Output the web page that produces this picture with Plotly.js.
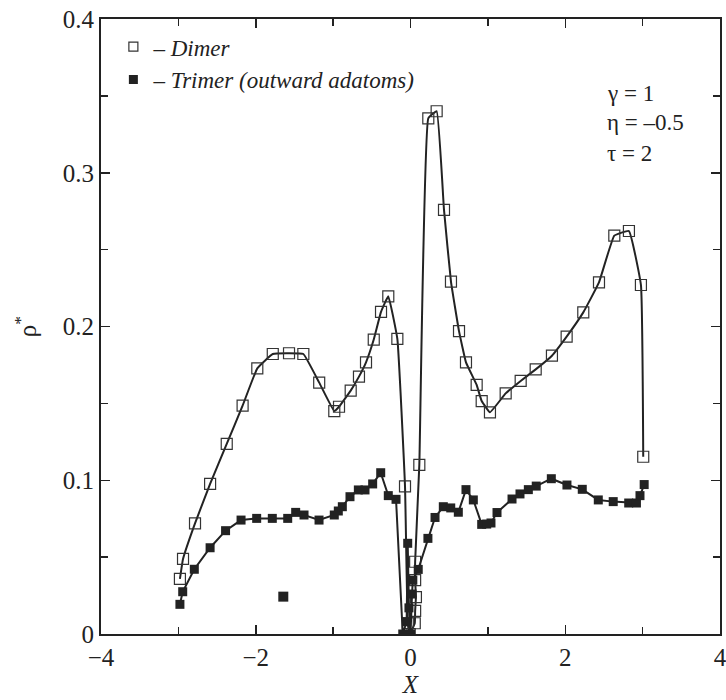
<!DOCTYPE html>
<html>
<head>
<meta charset="utf-8">
<script src="https://cdn.plot.ly/plotly-3.0.1.min.js"></script>
<style>
html,body{margin:0;padding:0;background:#fff;font-family:'Liberation Serif','Times New Roman',serif;}
#chart{width:726px;height:700px;}
#chart svg text{font-family:'Liberation Serif','Times New Roman','DejaVu Serif',serif !important;}
</style>
</head>
<body>
<div id="chart"></div>
<script>
// Dimer (open squares)
const dimerX = [-2.98,-2.94,-2.785,-2.59,-2.375,-2.17,-1.98,-1.78,-1.57,-1.385,-1.18,-0.985,-0.924,-0.773,-0.666,-0.575,-0.475,-0.381,-0.287,-0.17,-0.071,-0.035,-0.01,0.055,0.06,0.07,0.06,0.06,0.114,0.23,0.338,0.433,0.523,0.627,0.717,0.855,0.92,1.027,1.23,1.424,1.618,1.828,2.018,2.233,2.436,2.634,2.823,2.978,3.008];
const dimerY = [0.0358,0.0488,0.072,0.0976,0.1236,0.1485,0.1728,0.1821,0.1826,0.1821,0.1635,0.145,0.1478,0.1583,0.1674,0.1767,0.1915,0.2095,0.2196,0.1919,0.096,0.007,0.0,0.007,0.015,0.024,0.035,0.047,0.11,0.3354,0.34,0.2758,0.2292,0.197,0.1767,0.162,0.1515,0.1442,0.1565,0.1646,0.1721,0.181,0.1934,0.2092,0.2287,0.2591,0.2621,0.227,0.1153];
// Trimer (filled squares)
const trimerX = [-2.98,-2.944,-2.794,-2.59,-2.39,-2.19,-1.988,-1.786,-1.587,-1.484,-1.376,-1.182,-0.985,-0.933,-0.881,-0.782,-0.674,-0.588,-0.489,-0.385,-0.287,-0.187,-0.1,-0.05,-0.036,-0.02,0.0,0.02,0.03,0.1,0.225,0.317,0.424,0.52,0.618,0.717,0.812,0.92,0.985,1.04,1.118,1.312,1.415,1.523,1.625,1.82,2.022,2.22,2.427,2.62,2.82,2.92,2.966,3.02];
const trimerY = [0.0193,0.0275,0.0421,0.0561,0.0672,0.0741,0.0752,0.0752,0.0752,0.0791,0.0774,0.0741,0.0774,0.08,0.0828,0.0893,0.0937,0.0937,0.0976,0.1049,0.09,0.0876,0.0,0.008,0.059,0.017,0.0,0.026,0.035,0.042,0.0622,0.0758,0.0828,0.082,0.0792,0.0939,0.0872,0.0713,0.0715,0.0722,0.079,0.0878,0.0911,0.0939,0.0962,0.101,0.0969,0.0941,0.0872,0.0861,0.0852,0.0852,0.09,0.0972];
// isolated trimer point
const strayX = [-1.644];
const strayY = [0.0243];

const seriesNames = ['\u2013 <i>Dimer</i>', '\u2013 <i>Trimer (outward adatoms)</i>'];
const paramLabels = ['\u03b3 = 1', '\u03b7 = \u20130.5', '\u03c4 = 2'];

const ink = '#222';
const serif = 'Liberation Serif';

const traces = [
  {x: dimerX, y: dimerY, mode: 'lines+markers', showlegend: false,
   line: {color: ink, width: 2, shape: 'spline', smoothing: 0.3},
   marker: {symbol: 'square-open', size: 11, color: '#333', line: {width: 1.2, color: '#333'}}},
  {x: trimerX, y: trimerY, mode: 'lines+markers', showlegend: false,
   line: {color: ink, width: 2},
   marker: {symbol: 'square', size: 9, color: ink}},
  {x: strayX, y: strayY, mode: 'markers', showlegend: false,
   marker: {symbol: 'square', size: 10, color: ink}},
  {x: [null], y: [null], mode: 'markers', name: seriesNames[0],
   marker: {symbol: 'square-open', size: 9, color: '#333', line: {width: 1.2, color: '#333'}}},
  {x: [null], y: [null], mode: 'markers', name: seriesNames[1],
   marker: {symbol: 'square', size: 9, color: ink}}
];

const axisCommon = {
  showline: true, linecolor: ink, linewidth: 2, mirror: 'ticks',
  ticks: 'inside', ticklen: 9, tickwidth: 1.5, tickcolor: ink,
  showgrid: false, zeroline: false, ticklabeloverflow: 'allow',
  tickfont: {family: serif, size: 25, color: ink}
};

const layout = {
  width: 726, height: 700,
  margin: {l: 101, r: 6, t: 19, b: 66},
  paper_bgcolor: '#fff', plot_bgcolor: '#fff',
  font: {family: serif, size: 23, color: ink},
  xaxis: Object.assign({}, axisCommon, {
    range: [-4, 4], dtick: 2, tick0: 0,
    minor: {dtick: 1, ticks: 'inside', ticklen: 7, tickwidth: 1.5, tickcolor: ink, showgrid: false},
    title: {text: '<i>X</i>', font: {family: serif, size: 25, color: ink}, standoff: 4}
  }),
  yaxis: Object.assign({}, axisCommon, {
    range: [0, 0.4], dtick: 0.1, tick0: 0,
    minor: {dtick: 0.05, ticks: 'inside', ticklen: 7, tickwidth: 1.5, tickcolor: ink, showgrid: false},
    title: {text: '\u03c1<sup>*</sup>', font: {family: serif, size: 25, color: ink}, standoff: 19}
  }),
  showlegend: true,
  legend: {x: 0.02, y: 0.99, xanchor: 'left', yanchor: 'top', bgcolor: 'rgba(0,0,0,0)',
           font: {family: serif, size: 23, color: ink}, tracegroupgap: 0, itemwidth: 30},
  annotations: paramLabels.map((t, i) => ({
    text: t, xref: 'paper', yref: 'paper', x: 0.814, y: [0.879, 0.832, 0.781][i],
    xanchor: 'left', yanchor: 'middle', showarrow: false,
    font: {family: serif, size: 23, color: ink}
  }))
};

Plotly.newPlot('chart', traces, layout, {staticPlot: true, displayModeBar: false});
</script>
</body>
</html>
